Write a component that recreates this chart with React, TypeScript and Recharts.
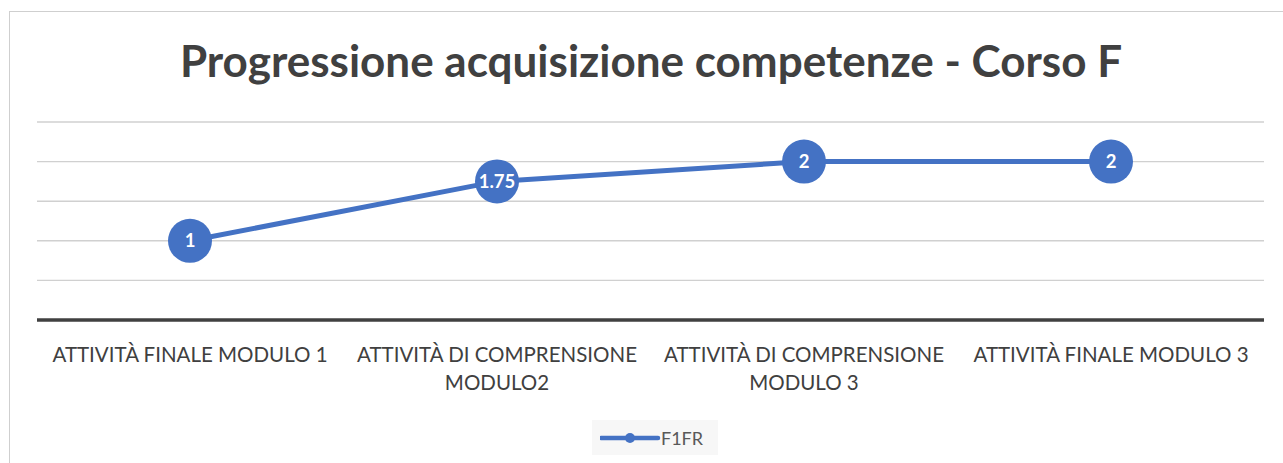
import React from 'react';
import { LineChart, Line, XAxis, YAxis, CartesianGrid, Legend, LabelList } from 'recharts';

const categories = [
  'ATTIVITÀ FINALE MODULO 1',
  'ATTIVITÀ DI COMPRENSIONE MODULO2',
  'ATTIVITÀ DI COMPRENSIONE MODULO 3',
  'ATTIVITÀ FINALE MODULO 3',
];
const f1frValues = [1, 1.75, 2, 2];
const yTicks = [0, 0.5, 1, 1.5, 2, 2.5];

const SERIES_NAME = 'F1FR';
const BLUE = '#4472C4';
const FONT = 'Lato, "Open Sans", sans-serif';

const data = categories.map((name, i) => ({ name, F1FR: f1frValues[i] }));

// greedy wrap by character count, like the original's narrow category slots
function wrapLabel(label: string, maxChars = 25) {
  const lines: string[] = [];
  let cur = '';
  for (const w of label.split(' ')) {
    const next = cur ? cur + ' ' + w : w;
    if (next.length > maxChars && cur) {
      lines.push(cur);
      cur = w;
    } else cur = next;
  }
  if (cur) lines.push(cur);
  return lines;
}

function CategoryTick(props: any) {
  const { x, y, payload } = props;
  const lines = wrapLabel(payload.value);
  return (
    <text x={x} y={y} textAnchor="middle" fill="#404040" style={{ fontSize: 20.5, fontFamily: FONT }}>
      {lines.map((l, i) => (
        <tspan key={i} x={x} y={y + 34 + i * 28}>
          {l}
        </tspan>
      ))}
    </text>
  );
}

function BigDot(props: any) {
  const { cx, cy } = props;
  if (cx == null || cy == null) return null;
  return <circle cx={cx} cy={cy} r={22} fill={BLUE} stroke="none" />;
}

function LegendBox() {
  return (
    <div
      style={{
        width: 126,
        height: 35,
        background: '#f7f7f7',
        display: 'flex',
        alignItems: 'center',
        fontFamily: FONT,
        fontSize: 18,
        color: '#595959',
      }}
    >
      <svg width={68} height={20} style={{ marginLeft: 8 }}>
        <line x1={1} y1={10} x2={58} y2={10} stroke={BLUE} strokeWidth={4.5} strokeLinecap="round" />
        <circle cx={30} cy={10} r={5} fill={BLUE} />
      </svg>
      <span style={{ marginLeft: -7 }}>{SERIES_NAME}</span>
    </div>
  );
}

export default function App() {
  return (
    <div style={{ position: 'absolute', left: 0, top: 0, width: 1283, height: 463, background: '#fff', overflow: 'hidden' }}>
      <div
        style={{
          position: 'absolute',
          left: 9,
          top: 11,
          width: 1290,
          height: 470,
          border: '1.5px solid #cfcfcf',
          boxSizing: 'border-box',
        }}
      />
      <div
        style={{
          position: 'absolute',
          left: 0,
          top: 34,
          width: 1302,
          textAlign: 'center',
          fontFamily: FONT,
          fontWeight: 700,
          fontSize: 44,
          color: '#404040',
        }}
      >
        Progressione acquisizione competenze - Corso F
      </div>
      <div style={{ position: 'absolute', left: 0, top: 0 }}>
        <LineChart width={1283} height={463} data={data} margin={{ top: 122, right: 19, bottom: 28, left: 37 }}>
          <CartesianGrid horizontal vertical={false} stroke="#d0d0d0" strokeWidth={1.4} />
          <XAxis
            dataKey="name"
            height={80}
            padding={{ left: 153, right: 153 }}
            axisLine={{ stroke: '#404040', strokeWidth: 3.5 }}
            tickLine={false}
            tick={<CategoryTick />}
            interval={0}
          />
          <YAxis hide domain={[0, 2.5]} ticks={yTicks} width={0} />
          <Legend
            content={() => <LegendBox />}
            wrapperStyle={{ position: 'absolute', left: 592, top: 420, width: 126, bottom: 'auto' }}
          />
          <Line
            type="linear"
            dataKey="F1FR"
            name={SERIES_NAME}
            stroke={BLUE}
            strokeWidth={5}
            dot={<BigDot />}
            activeDot={false}
            isAnimationActive={false}
          >
            <LabelList
              dataKey="F1FR"
              position="center"
              fill="#ffffff"
              style={{ fontFamily: FONT, fontWeight: 700, fontSize: 18.5 }}
            />
          </Line>
        </LineChart>
      </div>
    </div>
  );
}
